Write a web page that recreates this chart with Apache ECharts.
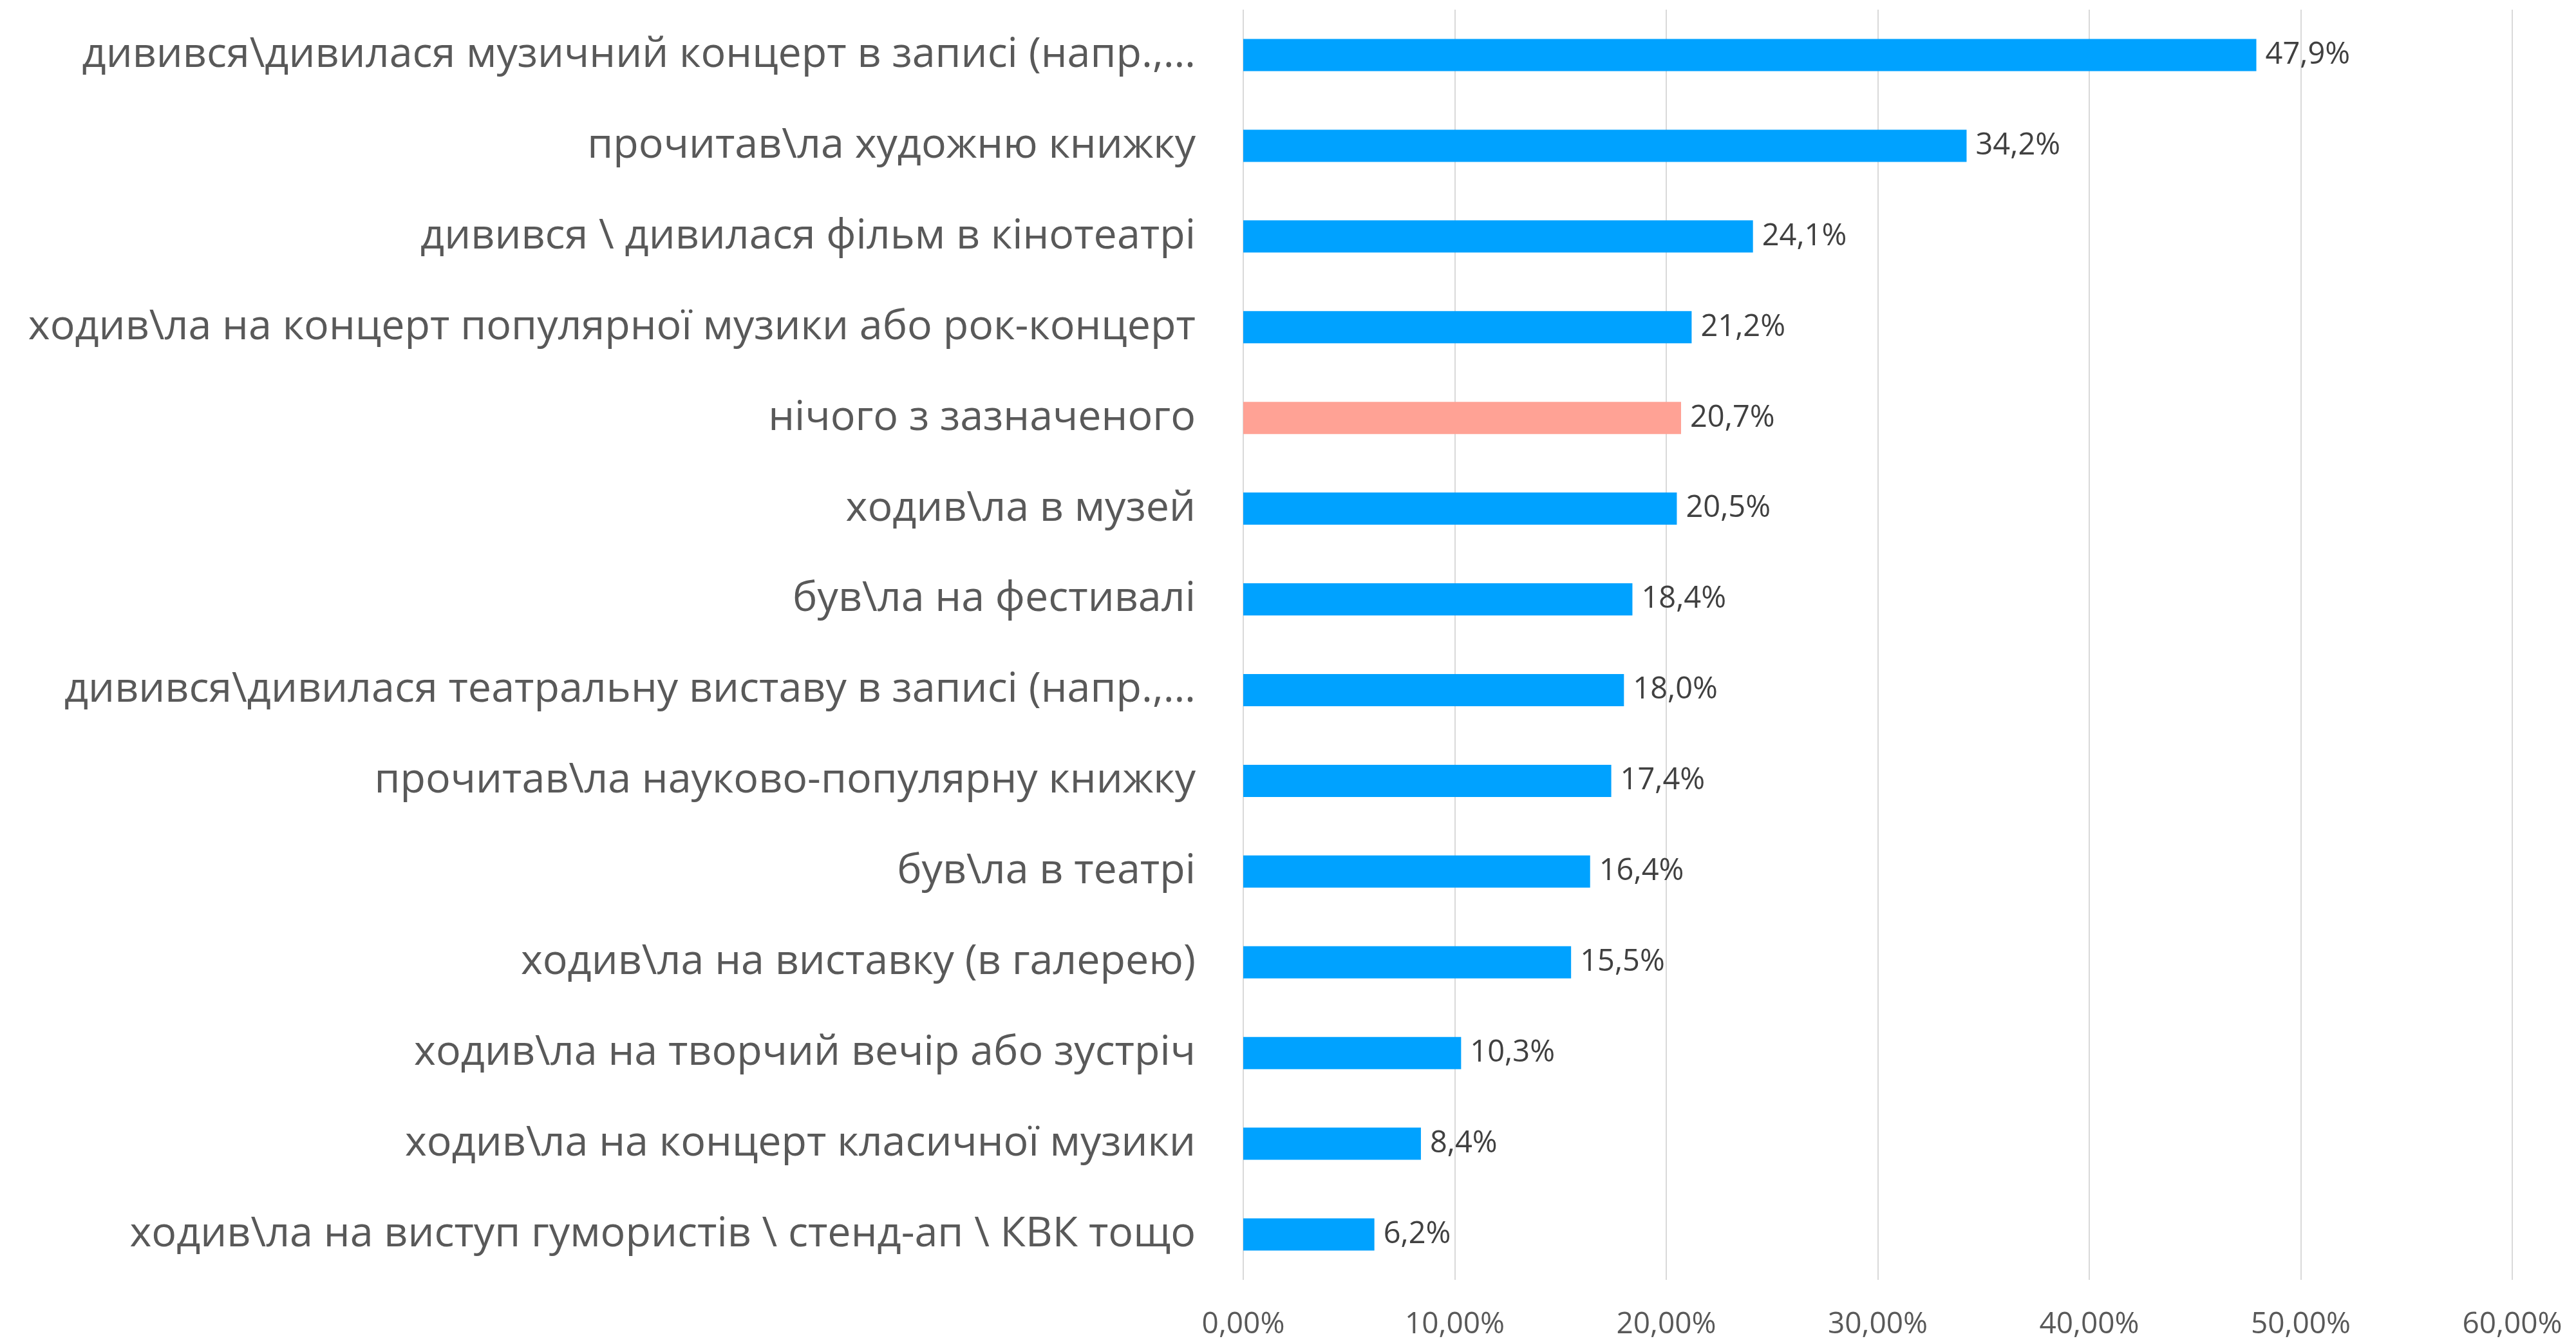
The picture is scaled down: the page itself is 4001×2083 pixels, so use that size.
<!DOCTYPE html>
<html>
<head>
<meta charset="utf-8">
<script src="https://cdn.jsdelivr.net/npm/echarts@6/dist/echarts.min.js"></script>
<style>html,body{margin:0;padding:0;background:#fff;}#c{width:4001px;height:2083px;}</style>
</head>
<body>
<div id="c"></div>
<script>
const categories = [
  "дивився\\дивилася музичний концерт в записі (напр.,…",
  "прочитав\\ла художню книжку",
  "дивився \\ дивилася фільм в кінотеатрі",
  "ходив\\ла на концерт популярної музики або рок-концерт",
  "нічого з зазначеного",
  "ходив\\ла в музей",
  "був\\ла на фестивалі",
  "дивився\\дивилася театральну виставу в записі (напр.,…",
  "прочитав\\ла науково-популярну книжку",
  "був\\ла в театрі",
  "ходив\\ла на виставку (в галерею)",
  "ходив\\ла на творчий вечір або зустріч",
  "ходив\\ла на концерт класичної музики",
  "ходив\\ла на виступ гумористів \\ стенд-ап \\ КВК тощо"
];
const values = [47.9, 34.2, 24.1, 21.2, 20.7, 20.5, 18.4, 18.0, 17.4, 16.4, 15.5, 10.3, 8.4, 6.2];
const highlighted = ["нічого з зазначеного"];
const axisTicks = [0, 10, 20, 30, 40, 50, 60];

const BLUE = "#00A2FF", SALMON = "#FFA295";
const chart = echarts.init(document.getElementById('c'), null, {renderer: 'canvas'});
chart.setOption({
  animation: false,
  backgroundColor: '#fff',
  grid: {left: 1931, right: 99, top: 15, bottom: 95, containLabel: false},
  xAxis: {
    type: 'value', min: axisTicks[0], max: axisTicks[axisTicks.length - 1], interval: 10,
    axisLine: {show: false}, axisTick: {show: false},
    splitLine: {show: true, lineStyle: {color: '#D9D9D9', width: 2}},
    axisLabel: {
      color: '#595959', fontFamily: 'Open Sans', fontSize: 46, margin: 47,
      formatter: v => v.toFixed(2).replace('.', ',') + '%'
    }
  },
  yAxis: {
    type: 'category', data: categories, inverse: true,
    axisLine: {show: false}, axisTick: {show: false},
    axisLabel: {color: '#595959', fontFamily: 'Open Sans', fontSize: 64.6, margin: 74, padding: [22, 0, 0, 0]}
  },
  series: [{
    type: 'bar', barWidth: 50,
    data: values.map((v, i) => ({
      value: v,
      itemStyle: {color: highlighted.includes(categories[i]) ? SALMON : BLUE}
    })),
    label: {
      show: true, position: 'right', distance: 14, padding: [4, 0, 0, 0],
      color: '#404040', fontFamily: 'Open Sans', fontSize: 47,
      formatter: p => p.value.toFixed(1).replace('.', ',') + '%'
    }
  }]
});
</script>
</body>
</html>
